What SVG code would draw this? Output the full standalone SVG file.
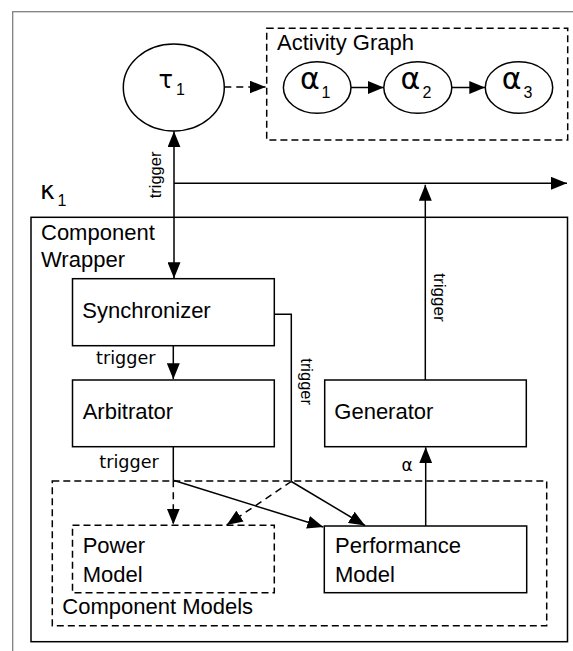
<svg xmlns="http://www.w3.org/2000/svg" width="573" height="651" viewBox="0 0 573 651">
<style>
.box{fill:none;stroke:#000;stroke-width:1.5}
.dbox{fill:none;stroke:#000;stroke-width:1.5;stroke-dasharray:7 4}
.ln{fill:none;stroke:#000;stroke-width:1.5}
.dln{fill:none;stroke:#000;stroke-width:1.5;stroke-dasharray:7 5}
.lbl{font-family:"Liberation Sans",Arial,sans-serif;font-size:22px;fill:#000}
.sub{font-family:"Liberation Sans",Arial,sans-serif;font-size:16px;fill:#000}
.gr{font-family:"DejaVu Sans",sans-serif;fill:#000}
.trg{font-family:"Liberation Sans",Arial,sans-serif;font-size:16.5px;fill:#000}
.trh{font-family:"DejaVu Sans",sans-serif;font-size:17px;fill:#000}
</style>
<defs>
<marker id="ah" markerUnits="userSpaceOnUse" markerWidth="16" markerHeight="13" refX="16" refY="6.5" orient="auto-start-reverse" viewBox="0 0 16 13">
<path d="M0,0 L16,6.5 L0,13 Z" fill="#000"/>
</marker>
</defs>
<rect width="573" height="651" fill="#fff"/>
<rect id="frame" x="12.7" y="11.7" width="700" height="700" fill="none" stroke="#808080" stroke-width="1.3"/>
<g id="kappa">
<text class="gr" x="40" y="199" font-size="25">κ</text>
<text class="sub" x="57.5" y="206">1</text>
</g>
<g id="tau">
<ellipse class="box" cx="173.8" cy="87.5" rx="50.5" ry="43.5"/>
<text class="gr" x="158.5" y="88" font-size="24">τ</text>
<text class="sub" x="176" y="95.3">1</text>
</g>
<g id="activity-graph">
<rect class="dbox" x="266.7" y="28.3" width="301" height="111.7"/>
<text class="lbl" x="277" y="50">Activity Graph</text>
</g>
<g id="alpha1">
<ellipse class="box" cx="317.2" cy="87.5" rx="33.8" ry="25.8"/>
<text class="gr" x="300" y="88.7" font-size="30">α</text>
<text class="sub" x="321.5" y="98">1</text>
</g>
<g id="alpha2">
<ellipse class="box" cx="417.8" cy="87.5" rx="34" ry="25.8"/>
<text class="gr" x="400.5" y="88.7" font-size="30">α</text>
<text class="sub" x="422.5" y="98">2</text>
</g>
<g id="alpha3">
<ellipse class="box" cx="519" cy="87.5" rx="33.7" ry="25.8"/>
<text class="gr" x="501.7" y="88.7" font-size="30">α</text>
<text class="sub" x="523.5" y="98">3</text>
</g>
<g id="component-wrapper">
<rect class="box" x="31" y="217.3" width="536.5" height="424.4"/>
<text class="lbl" x="41" y="240">Component</text>
<text class="lbl" x="41" y="267">Wrapper</text>
</g>
<g id="synchronizer">
<rect class="box" x="72.5" y="278.7" width="201.8" height="67"/>
<text class="lbl" x="82.3" y="318.3">Synchronizer</text>
</g>
<g id="arbitrator">
<rect class="box" x="72.5" y="380" width="201.8" height="66.7"/>
<text class="lbl" x="82.7" y="419.3">Arbitrator</text>
</g>
<g id="generator">
<rect class="box" x="324.7" y="380" width="201.6" height="66.7"/>
<text class="lbl" x="334.3" y="419.3">Generator</text>
</g>
<g id="component-models">
<rect class="dbox" x="52.3" y="481" width="494.4" height="144.7"/>
<text class="lbl" x="62.3" y="614">Component Models</text>
</g>
<g id="power-model">
<rect class="dbox" x="72.5" y="525.3" width="201.8" height="67.4"/>
<text class="lbl" x="82.7" y="553.3">Power</text>
<text class="lbl" x="82.7" y="581.7">Model</text>
</g>
<g id="performance-model">
<rect class="box" x="324.3" y="526" width="202.4" height="66.7"/>
<text class="lbl" x="335" y="553.3">Performance</text>
<text class="lbl" x="335" y="581.7">Model</text>
</g>
<g id="connectors">
<line class="dln" x1="224.3" y1="87" x2="265.5" y2="87" marker-end="url(#ah)"/>
<line class="ln" x1="351" y1="87.5" x2="383.7" y2="87.5" marker-end="url(#ah)"/>
<line class="ln" x1="451.8" y1="87.5" x2="485.3" y2="87.5" marker-end="url(#ah)"/>
<line class="ln" x1="174" y1="131.2" x2="174" y2="278.3" marker-start="url(#ah)" marker-end="url(#ah)"/>
<line class="ln" x1="174" y1="183.3" x2="567" y2="183.3" marker-end="url(#ah)"/>
<line class="ln" x1="425.3" y1="380" x2="425.3" y2="184.8" marker-end="url(#ah)"/>
<line class="ln" x1="173.3" y1="345.7" x2="173.3" y2="379.2" marker-end="url(#ah)"/>
<polyline class="ln" points="274.3,314.3 291.3,314.3 291.3,481.5"/>
<line class="ln" x1="173.3" y1="446.7" x2="173.3" y2="480.3"/>
<line class="dln" x1="173.3" y1="480.3" x2="173.3" y2="524.6" marker-end="url(#ah)"/>
<line class="ln" x1="173.3" y1="480.3" x2="323.3" y2="527" marker-end="url(#ah)"/>
<line class="ln" x1="291.3" y1="481.5" x2="365" y2="525.5" marker-end="url(#ah)"/>
<line class="dln" x1="291.3" y1="481.5" x2="226.7" y2="525" marker-end="url(#ah)"/>
<line class="ln" x1="425.7" y1="526" x2="425.7" y2="447.3" marker-end="url(#ah)"/>
<text class="trg" transform="translate(160.5,198.3) rotate(-90)" textLength="46.7" lengthAdjust="spacingAndGlyphs">trigger</text>
<text class="trg" transform="translate(300.8,358.3) rotate(90)" textLength="46.7" lengthAdjust="spacingAndGlyphs">trigger</text>
<text class="trg" transform="translate(433.6,273.3) rotate(90)" font-size="17" textLength="48.3" lengthAdjust="spacingAndGlyphs">trigger</text>
<text class="trh" x="96" y="364.3" textLength="59.5" lengthAdjust="spacingAndGlyphs">trigger</text>
<text class="trh" x="99.3" y="467.7" textLength="59.5" lengthAdjust="spacingAndGlyphs">trigger</text>
<text class="gr" x="401.5" y="471" font-size="17">α</text>
</g>
</svg>
